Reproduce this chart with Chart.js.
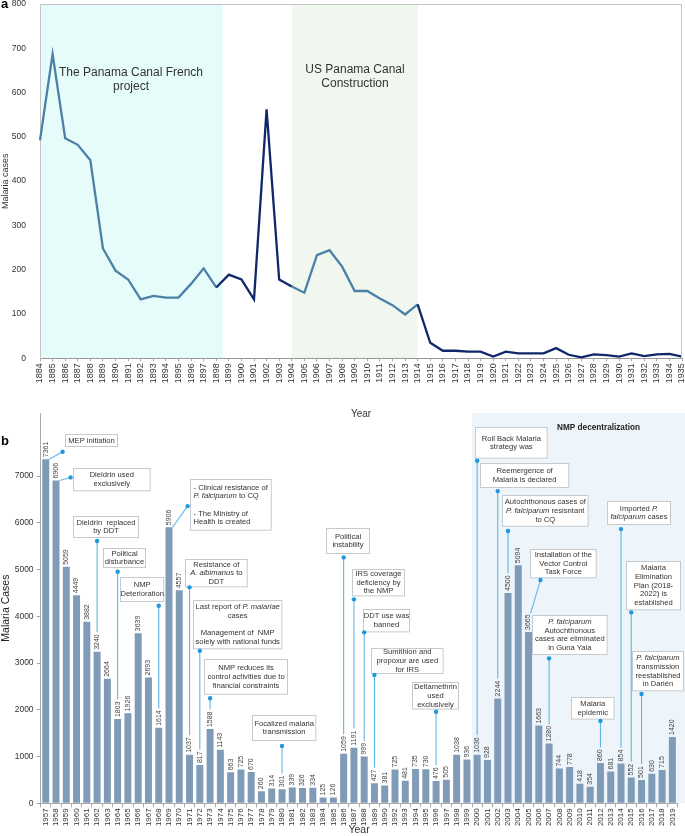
<!DOCTYPE html>
<html>
<head>
<meta charset="utf-8">
<script src="https://cdn.jsdelivr.net/npm/chart.js@4.4.1/dist/chart.umd.min.js"></script>
<style>
  body { margin: 0; background: #fff; }
  #wrap { position: relative; width: 685px; height: 836px; }
  canvas { position: absolute; left: 0; }
</style>
</head>
<body>
<div id="wrap">
  <canvas id="canalChart" width="685" height="420" style="top:0"></canvas>
  <canvas id="modernChart" width="685" height="436" style="top:400px"></canvas>
</div>
<script>
// Panel a: malaria cases during the canal years
const canalYears = ["1884","1885","1886","1887","1888","1889","1890","1891","1892","1893",
  "1894","1895","1896","1897","1898","1899","1900","1901","1902","1903","1904","1905","1906",
  "1907","1908","1909","1910","1911","1912","1913","1914","1915","1916","1917","1918","1919",
  "1920","1921","1922","1923","1924","1925","1926","1927","1928","1929","1930","1931","1932",
  "1933","1934","1935"];
const canalCases = [492, 687, 497, 482, 447, 248, 198, 178, 133, 141,
  137, 137, 168, 203, 160, 189, 178, 133, 562, 178, 162, 148, 233,
  244, 207, 152, 152, 135, 120, 99, 122, 35, 17, 17, 15, 15,
  4, 15, 11, 11, 11, 23, 8, 2, 9, 7, 4, 11, 5,
  9, 10, 4];
const frenchPeriod = [1884, 1898.5];
const usPeriod = [1904, 1914];

// Panel b: malaria cases 1957-2019 (1991 is missing in the source)
const modernYears = ["1957","1958","1959","1960","1961","1962","1963","1964","1965","1966",
  "1967","1968","1969","1970","1971","1972","1973","1974","1975","1976","1977","1978","1979",
  "1980","1981","1982","1983","1984","1985","1986","1987","1988","1989","1990","1992","1993",
  "1994","1995","1996","1997","1998","1999","2000","2001","2002","2003","2004","2005","2006",
  "2007","2008","2009","2010","2011","2012","2013","2014","2015","2016","2017","2018","2019"];
const modernCases = [7361, 6906, 5059, 4449, 3882, 3240, 2664, 1803, 1926, 3639,
  2693, 1614, 5906, 4557, 1037, 817, 1588, 1143, 663, 725, 670, 260, 314,
  301, 339, 326, 334, 125, 126, 1059, 1191, 999, 427, 381, 725, 481,
  735, 730, 476, 505, 1038, 936, 1036, 928, 2244, 4500, 5094, 3665, 1663,
  1280, 744, 778, 418, 354, 860, 681, 854, 552, 501, 630, 715, 1420];
const yTicksB = [0, 1000, 2000, 3000, 4000, 5000, 6000, 7000];
const decentralizationFrom = "2000";

// callouts: year, where the line starts, pin value, box offset from pin
const notes = [
  {year: "1957", kind: "top", dx: 1.64, value: 7520, box: [2.3, -17.7, 52, 12], lines: ["MEP initiation"]},
  {year: "1958", kind: "top", dx: 1.42, value: 6972, box: [2, -9.6, 76.6, 22.3], lines: ["Dieldrin used", "exclusively"]},
  {year: "1962", kind: "down", value: 5610, box: [-24.2, -25, 65, 21], lines: ["Dieldrin  replaced", "by DDT"]},
  {year: "1964", kind: "down", value: 4953, box: [-14.7, -23.7, 42, 19], lines: ["Political", "disturbance"]},
  {year: "1968", kind: "down", value: 4226, box: [-38.8, -29, 43.3, 24], lines: ["NMP", "Deterioration"]},
  {year: "1969", kind: "top", dx: 1.81, value: 6358, box: [2.3, -26.7, 80.7, 50.7], align: "left",
    lines: ["- Clinical resistance of", "*P. falciparum* to CQ", "", "- The Ministry of", "Health is created"]},
  {year: "1971", kind: "down", value: 4620, box: [-4.7, -28, 61.7, 27.4], lines: ["Resistance of", "*A. albimanus* to", "DDT"]},
  {year: "1972", kind: "down", value: 3264, box: [-6.7, -50.7, 88.4, 48.3],
    lines: ["Last report of *P. malariae*", "cases", "", "Management of  NMP", "solely with national funds"]},
  {year: "1973", kind: "down", value: 2246, box: [-5.9, -39, 83, 34.7], lines: ["NMP reduces its", "control activities due to", "financial constraints"]},
  {year: "1980", kind: "down", value: 1225, box: [-30.5, -31, 63.3, 25], lines: ["Focalized malaria", "transmission"]},
  {year: "1986", kind: "down", value: 5261, box: [-17.8, -29, 43, 25], lines: ["Political", "instability"]},
  {year: "1987", kind: "down", value: 4363, box: [-1.8, -30, 52, 26.4], lines: ["IRS coverage", "deficiency by", "the NMP"]},
  {year: "1988", kind: "down", value: 3657, box: [-1.1, -23, 46, 22.4], lines: ["DDT use was", "banned"]},
  {year: "1989", kind: "down", value: 2744, box: [-3, -27.3, 71.6, 25], lines: ["Sumithion and", "propoxur are used", "for IRS"]},
  {year: "1996", kind: "down", value: 1959, box: [-24, -30, 46, 26.6], lines: ["Deltamethrin", "used", "exclusively"]},
  {year: "2000", kind: "down", value: 7327, box: [-2.4, -34, 71.7, 30.6], lines: ["Roll Back Malaria", "strategy was"]},
  {year: "2002", kind: "down", value: 6679, box: [-18, -27.7, 88.3, 24], lines: ["Reemergence of", "Malaria is declared"]},
  {year: "2003", kind: "down", value: 5824, box: [-5.6, -36, 85.6, 30.7], lines: ["Autochthonous cases of", "*P. falciparum* resisntant", "to CQ"]},
  {year: "2005", kind: "label", dx: 1.16, value: 4776, box: [-10.7, -31, 65.7, 28.3], lines: ["Installation of the", "Vector Control", "Task Force"]},
  {year: "2007", kind: "down", value: 3101, box: [-16.7, -43.3, 74.6, 39], lines: ["*P. falciparum*", "Autochthonous", "cases are eliminated", "in Guna Yala"]},
  {year: "2012", kind: "down", value: 1760, box: [-29.1, -24.3, 42.6, 21.6], lines: ["Malaria", "epidemic"]},
  {year: "2014", kind: "down", value: 5866, box: [-13.6, -28, 63, 23], lines: ["Imported *P.*", "*falciparum* cases"]},
  {year: "2015", kind: "down", value: 4085, box: [-4.9, -51.6, 54, 48.3], lines: ["Malaria", "Elimination", "Plan (2018-", "2022) is", "established"]},
  {year: "2016", kind: "down", value: 2338, box: [-9.6, -43.3, 51, 39.3], lines: ["*P. falciparum*", "transmission", "reestablished", "in Darién"]}
];

const FONT = '"Liberation Sans", Arial, sans-serif';
const LIGHT = "#4d80a6";
const DARK = "#10286b";

Chart.defaults.font.family = FONT;
Chart.defaults.animation = false;

// ---------- panel a ----------
const canalPlugin = {
  id: "canalBands",
  beforeDraw(chart) {
    const { ctx, chartArea: a, scales: { x } } = chart;
    const px = v => x.getPixelForValue(v - Number(canalYears[0]));
    ctx.save();
    ctx.fillStyle = "#e5fcfb";
    ctx.fillRect(px(frenchPeriod[0]), a.top, px(frenchPeriod[1]) - px(frenchPeriod[0]), a.bottom - a.top);
    ctx.fillStyle = "#eff7ef";
    ctx.fillRect(px(usPeriod[0]), a.top, px(usPeriod[1]) - px(usPeriod[0]), a.bottom - a.top);
    ctx.restore();
  },
  afterDraw(chart) {
    const { ctx, chartArea: a } = chart;
    ctx.save();
    ctx.strokeStyle = "#c4c4c4";
    ctx.lineWidth = 1;
    ctx.beginPath();
    ctx.moveTo(a.left, a.top + 0.5);
    ctx.lineTo(a.right - 0.5, a.top + 0.5);
    ctx.lineTo(a.right - 0.5, a.bottom);
    ctx.stroke();
    ctx.fillStyle = "#333";
    ctx.font = "12px " + FONT;
    ctx.textAlign = "center";
    ctx.textBaseline = "middle";
    ctx.fillText("The Panama Canal French", 131, 72.5);
    ctx.fillText("project", 131, 86.5);
    ctx.fillText("US Panama Canal", 355, 70);
    ctx.fillText("Construction", 355, 84);
    ctx.fillStyle = "#000";
    ctx.font = "bold 13px " + FONT;
    ctx.textAlign = "left";
    ctx.textBaseline = "alphabetic";
    ctx.fillText("a", 1, 8);
    ctx.restore();
  }
};

new Chart(document.getElementById("canalChart"), {
  type: "line",
  data: {
    labels: canalYears,
    datasets: [{
      data: canalCases,
      borderColor: LIGHT,
      borderWidth: 2.3,
      pointRadius: 0,
      tension: 0,
      segment: {
        borderColor: c => ((c.p0DataIndex >= 14 && c.p0DataIndex < 20) || c.p0DataIndex >= 30) ? DARK : LIGHT
      }
    }]
  },
  options: {
    responsive: false,
    layout: { padding: { top: 4, right: 3 } },
    plugins: { legend: { display: false }, tooltip: { enabled: false } },
    scales: {
      x: {
        offset: false,
        grid: { drawOnChartArea: false, tickLength: 3, color: "#aaa" },
        border: { color: "#999" },
        ticks: { autoSkip: false, maxRotation: 90, minRotation: 90, font: { size: 9 }, color: "#333", padding: 2 },
        title: { display: true, text: "Year", font: { size: 10 }, color: "#333", padding: 0 },
        afterFit: s => { s.height = 61.7; s.paddingLeft = 0; s.paddingRight = 0; }
      },
      y: {
        min: 0, max: 800,
        grid: { display: false },
        border: { color: "#c4c4c4" },
        ticks: { stepSize: 100, font: { size: 8.5 }, color: "#333", padding: 6 },
        title: { display: true, text: "Malaria cases", font: { size: 9 }, color: "#333", padding: 0 },
        afterFit: s => { s.width = 40; s.paddingTop = 0; s.paddingBottom = 0; }
      }
    }
  },
  plugins: [canalPlugin]
});

// ---------- panel b ----------
const VALUE_FONT = "7px " + FONT;
const NOTE_SIZE = 7.6;
const NOTE_LH = 8.7;

function richLine(ctx, line, x, y, align) {
  const parts = line.split("*");
  const fonts = parts.map((p, i) => (i % 2 ? "italic " : "") + NOTE_SIZE + "px " + FONT);
  const widths = parts.map((p, i) => { ctx.font = fonts[i]; return ctx.measureText(p).width; });
  const total = widths.reduce((s, w) => s + w, 0);
  let cx = align === "left" ? x : x - total / 2;
  parts.forEach((p, i) => {
    ctx.font = fonts[i];
    ctx.fillText(p, cx, y);
    cx += widths[i];
  });
}

const modernPlugin = {
  id: "modernNotes",
  beforeDraw(chart) {
    const { ctx, chartArea: a, scales: { x } } = chart;
    const left = x.getPixelForValue(modernYears.indexOf(decentralizationFrom) - 0.5);
    ctx.save();
    ctx.fillStyle = "#edf4fa";
    ctx.fillRect(left, a.top, chart.width - left, a.bottom - a.top);
    ctx.restore();
  },
  afterDatasetsDraw(chart) {
    const { ctx, chartArea: a, scales: { x } } = chart;
    const bars = chart.getDatasetMeta(0).data;
    ctx.save();
    ctx.fillStyle = "#444";
    ctx.font = VALUE_FONT;
    ctx.textAlign = "left";
    ctx.textBaseline = "middle";
    bars.forEach((b, i) => {
      ctx.save();
      ctx.translate(b.x, b.y - 2);
      ctx.rotate(-Math.PI / 2);
      ctx.fillText(String(modernCases[i]), 0, 0);
      ctx.restore();
    });
    const left = x.getPixelForValue(modernYears.indexOf(decentralizationFrom) - 0.5);
    ctx.fillStyle = "#222";
    ctx.font = "bold 8.2px " + FONT;
    ctx.textAlign = "center";
    ctx.fillText("NMP decentralization", (left + chart.width) / 2 + 20, a.top + 15);
    ctx.restore();
  },
  afterDraw(chart) {
    const { ctx, scales: { x, y } } = chart;
    const bars = chart.getDatasetMeta(0).data;
    ctx.save();
    notes.forEach(n => {
      const idx = modernYears.indexOf(n.year);
      const bar = bars[idx];
      ctx.font = VALUE_FONT;
      const labelLen = ctx.measureText(String(modernCases[idx])).width;
      const pin = { x: x.getPixelForValue(idx + (n.dx || 0)), y: y.getPixelForValue(n.value) };
      let start;
      if (n.kind === "down") start = { x: pin.x, y: bar.y - labelLen - 4 };
      else if (n.kind === "top") start = { x: bar.x + bar.width / 2, y: bar.y };
      else start = { x: bar.x + 2, y: bar.y - labelLen - 3 };
      ctx.strokeStyle = "#62b6e6";
      ctx.lineWidth = 1.1;
      ctx.beginPath();
      ctx.moveTo(start.x, start.y);
      ctx.lineTo(pin.x, pin.y);
      ctx.stroke();
      // box
      const [bx, by, bw, bh] = n.box;
      const bl = Math.round(pin.x + bx) + 0.5, bt = Math.round(pin.y + by) + 0.5;
      ctx.fillStyle = "#fff";
      ctx.fillRect(bl, bt, bw, bh);
      ctx.strokeStyle = "#c5cace";
      ctx.lineWidth = 1;
      ctx.strokeRect(bl, bt, bw, bh);
      ctx.fillStyle = "#333";
      ctx.textBaseline = "middle";
      ctx.textAlign = "left";
      const top = bt + (bh - n.lines.length * NOTE_LH) / 2 + NOTE_LH / 2;
      n.lines.forEach((line, i) => {
        if (!line) return;
        if (n.align === "left") richLine(ctx, line, bl + 3, top + i * NOTE_LH, "left");
        else richLine(ctx, line, bl + bw / 2, top + i * NOTE_LH, "center");
      });
      // pin
      ctx.fillStyle = "#1f98de";
      ctx.beginPath();
      ctx.arc(pin.x, pin.y, 2.2, 0, Math.PI * 2);
      ctx.fill();
    });
    ctx.fillStyle = "#000";
    ctx.font = "bold 13px " + FONT;
    ctx.textAlign = "left";
    ctx.textBaseline = "alphabetic";
    ctx.fillText("b", 1, 45);
    ctx.restore();
  }
};

new Chart(document.getElementById("modernChart"), {
  type: "bar",
  data: {
    labels: modernYears,
    datasets: [{
      data: modernCases,
      backgroundColor: "#7f9bb7",
      barPercentage: 0.68,
      categoryPercentage: 1
    }]
  },
  options: {
    responsive: false,
    layout: { padding: { top: 13, right: 7.5 } },
    plugins: { legend: { display: false }, tooltip: { enabled: false } },
    scales: {
      x: {
        offset: true,
        grid: { offset: true, drawOnChartArea: false, tickLength: 4, color: "#aaa" },
        border: { color: "#aaa" },
        ticks: { autoSkip: false, maxRotation: 90, minRotation: 90, font: { size: 8 }, color: "#333", padding: 1 },
        title: { display: true, text: "Year", font: { size: 10.5 }, color: "#333", padding: 0 },
        afterFit: s => { s.height = 32.7; s.paddingLeft = 0; s.paddingRight = 0; }
      },
      y: {
        min: 0, max: 8350,
        afterBuildTicks: s => { s.ticks = yTicksB.map(v => ({ value: v })); },
        grid: { drawOnChartArea: false, tickLength: 4, color: "#aaa" },
        border: { color: "#aaa" },
        ticks: { font: { size: 8.5 }, color: "#333", padding: 3, callback: v => String(v) },
        title: { display: true, text: "Malaria Cases", font: { size: 10.5 }, color: "#222", padding: 0 },
        afterFit: s => { s.width = 40.6; s.paddingTop = 0; s.paddingBottom = 0; }
      }
    }
  },
  plugins: [modernPlugin]
});
</script>
</body>
</html>
